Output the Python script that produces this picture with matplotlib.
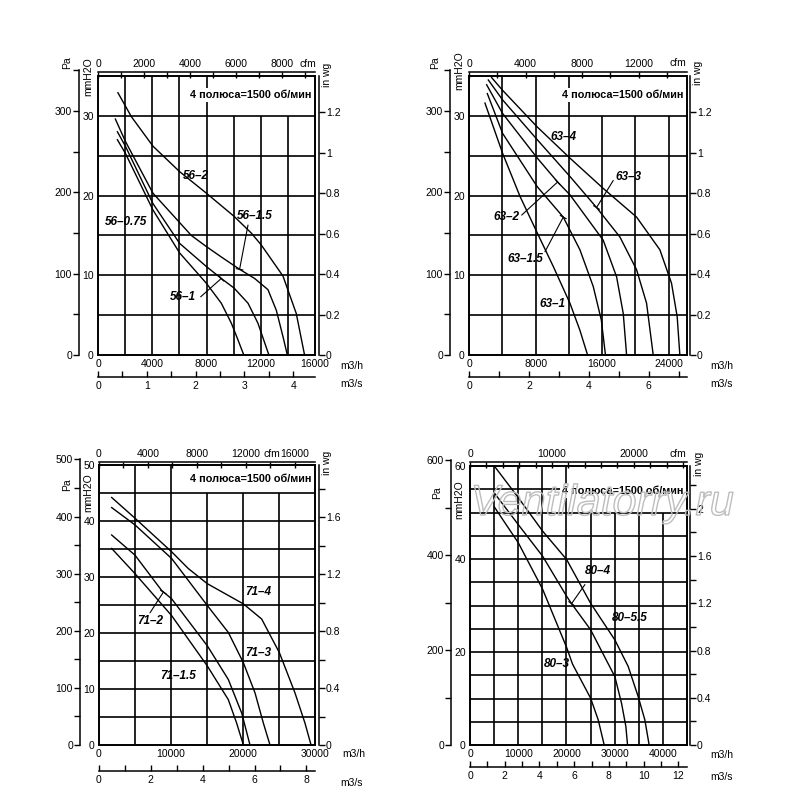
"""
Fan performance curves, 4 panels (series 56 / 63 / 71 / 80, 4 poles, 1500 rpm).
Main scale m3/h vs mmH2O, extra scales Pa, in wg, cfm and m3/s.
"""
import matplotlib
matplotlib.use("Agg")
import numpy as np
import matplotlib.pyplot as plt
from matplotlib import patheffects as pe
from matplotlib import transforms as mtrans
from matplotlib.ticker import MultipleLocator, FuncFormatter

plt.rcParams["font.family"] = ["Liberation Sans", "DejaVu Sans"]

W, H = 800, 811
PA_PER_MM = 9.80665
MM_PER_IN = 25.4
M3H_PER_CFM = 1.699
M3H_PER_M3S = 3600.0

SPEED_TXT = "4 полюса=1500 об/мин"

# ---------- data: flow (m3/h), pressure (mmH2O) ----------
Q_56_2 = [1470, 2460, 4050, 6020, 7990, 10030, 11300, 12040, 13640, 14620, 15230]
H_56_2 = [32.9, 29.9, 26.2, 23.0, 20.3, 17.4, 15.3, 13.8, 9.9, 5.2, 0]
Q_56_15 = [1280, 2020, 4050, 6880, 7990, 9090, 10440, 11550, 12530, 13150, 13640, 13960]
H_56_15 = [29.6, 26.8, 20.3, 15.0, 13.6, 12.3, 10.75, 9.6, 8.2, 5.6, 2.3, 0]
Q_56_1 = [1430, 2020, 4050, 6020, 7990, 9090, 10030, 11060, 11790, 12600]
H_56_1 = [28.0, 26.2, 19.0, 14.0, 11.1, 9.6, 8.4, 6.5, 4.0, 0]
Q_56_075 = [1430, 2020, 4050, 6020, 7990, 9090, 9830, 10320, 10750]
H_56_075 = [27.0, 25.3, 18.2, 12.8, 9.0, 6.5, 4.0, 1.9, 0]

Q_63_1 = [1920, 4040, 6130, 8210, 10130, 12130, 13330, 14250]
H_63_1 = [31.6, 25.3, 19.9, 15.3, 11.1, 6.5, 3.1, 0]
Q_63_15 = [2200, 4040, 8210, 11330, 13330, 14930, 15900, 16400]
H_63_15 = [32.8, 27.8, 21.1, 17.3, 13.2, 8.6, 4.4, 0]
Q_63_2 = [2120, 4040, 8210, 10650, 12130, 16130, 17740, 18540, 18940]
H_63_2 = [33.9, 30.3, 24.7, 21.7, 20.1, 14.4, 9.8, 5.2, 0]
Q_63_3 = [2320, 4040, 8210, 12130, 15330, 18140, 20140, 21340, 22140]
H_63_3 = [34.5, 32.0, 27.0, 22.4, 18.5, 14.8, 10.7, 6.5, 0]
Q_63_4 = [2720, 4040, 8210, 12130, 16130, 20140, 22940, 24340, 25020, 25340]
H_63_4 = [34.8, 33.2, 28.6, 24.7, 20.9, 17.3, 13.2, 9.0, 4.8, 0]

Q_71_4 = [1760, 5000, 10090, 12410, 15050, 20050, 22590, 25050, 27220, 28610, 29450]
H_71_4 = [44.2, 40.5, 34.5, 31.5, 28.8, 25.2, 22.5, 16.5, 9.3, 3.9, 0]
Q_71_3 = [1760, 5000, 10090, 15050, 17960, 20050, 21670, 22830, 23750]
H_71_3 = [42.4, 39.3, 33.3, 24.9, 20.1, 14.7, 9.3, 3.9, 0]
Q_71_2 = [1760, 5000, 8700, 10090, 15050, 17960, 19820, 20970]
H_71_2 = [37.5, 33.9, 27.6, 26.1, 17.7, 11.7, 5.7, 0]
Q_71_15 = [1760, 5000, 10090, 15050, 17960, 19120, 20050]
H_71_15 = [35.1, 30.6, 23.1, 14.1, 8.1, 3.9, 0]

Q_80_55 = [5040, 10010, 15060, 20030, 25000, 30040, 32800, 34880, 36260, 37150]
H_80_55 = [60.0, 53.2, 46.0, 39.9, 30.5, 22.6, 16.9, 10.4, 5.4, 0]
Q_80_4 = [5040, 10010, 15060, 20030, 21060, 25000, 30040, 31420, 32320, 32670]
H_80_4 = [54.2, 47.4, 40.6, 32.0, 30.4, 24.8, 14.7, 9.0, 4.0, 0]
Q_80_3 = [5040, 10010, 15060, 20030, 21260, 25000, 26590, 27830]
H_80_3 = [51.2, 43.5, 33.5, 21.0, 17.4, 10.1, 5.4, 0]

# ---------- curve names, label spots (m3/h, mmH2O) and leader lines ----------
CURVES_56 = [(Q_56_2, H_56_2), (Q_56_15, H_56_15), (Q_56_1, H_56_1), (Q_56_075, H_56_075)]
LABELS_56 = [("56–2", 7250, 22.5), ("56–1.5", 11550, 17.4),
             ("56–0.75", 2090, 16.7), ("56–1", 6270, 7.3)]
LEADERS_56 = [((11060, 16.3), (10440, 10.75)), ((7570, 7.3), (9090, 9.6))]

CURVES_63 = [(Q_63_1, H_63_1), (Q_63_15, H_63_15), (Q_63_2, H_63_2),
             (Q_63_3, H_63_3), (Q_63_4, H_63_4)]
LABELS_63 = [("63–4", 11330, 27.4), ("63–3", 19140, 22.3), ("63–2", 4520, 17.3),
             ("63–1.5", 6730, 12.1), ("63–1", 10050, 6.4)]
LEADERS_63 = [((6330, 17.55), (10650, 21.7)), ((9130, 12.95), (11330, 17.3)),
              ((17340, 21.9), (15330, 18.5))]

CURVES_71 = [(Q_71_4, H_71_4), (Q_71_3, H_71_3), (Q_71_2, H_71_2), (Q_71_15, H_71_15)]
LABELS_71 = [("71–4", 22130, 27.3), ("71–3", 22130, 16.5),
             ("71–2", 7080, 22.2), ("71–1.5", 11020, 12.3)]
LEADERS_71 = [((7080, 23.6), (8940, 27.3))]

CURVES_80 = [(Q_80_55, H_80_55), (Q_80_4, H_80_4), (Q_80_3, H_80_3)]
LABELS_80 = [("80–4", 26590, 37.4), ("80–5.5", 33150, 27.3), ("80–3", 17960, 17.5)]
LEADERS_80 = [((23830, 34.5), (21060, 30.4))]

# ---------- layout per panel (pixels of the 800x811 canvas) ----------
P1 = dict(box=(98, 76, 315, 355), xmax=16000, ymax=35, xgrid=2000, through=8000,
          ycut=30, label_left=0, xticks=[0, 4000, 8000, 12000, 16000],
          yticks=[0, 10, 20, 30], title_y=32.6,
          pa_x=79, pa_max=350, pa_major=100, pa_minor=50,
          in_x=319, in_major=0.2, in_minor=0.2,
          cfm_y=72, cfm_major=2000, cfm_minor=1000, cfm_txt=(300, 64),
          s_y=377, s_major=1, s_minor=0.5,
          pa_lbl=(67, 63), mm_lbl=(88, 77), in_lbl=(327, 75),
          m3h_lbl=(340, 366), m3s_lbl=(340, 384))
P2 = dict(box=(469, 76, 687, 355), xmax=26200, ymax=35, xgrid=4000, through=12000,
          ycut=30, label_left=0, xticks=[0, 8000, 16000, 24000],
          yticks=[0, 10, 20, 30], title_y=32.6,
          pa_x=450, pa_max=350, pa_major=100, pa_minor=50,
          in_x=690, in_major=0.2, in_minor=0.2,
          cfm_y=72, cfm_major=4000, cfm_minor=2000, cfm_txt=(669, 63),
          s_y=377, s_major=2, s_minor=1,
          pa_lbl=(435, 63), mm_lbl=(459, 71), in_lbl=(698, 73),
          m3h_lbl=(710, 366), m3s_lbl=(710, 384))
P3 = dict(box=(99, 465, 315, 745), xmax=30000, ymax=50, xgrid=5000, through=10000,
          ycut=45, label_left=0, xticks=[0, 10000, 20000, 30000],
          yticks=[0, 10, 20, 30, 40, 50], title_y=47.5,
          pa_x=80, pa_max=500, pa_major=100, pa_minor=50,
          in_x=319, in_major=0.4, in_minor=0.2,
          cfm_y=462, cfm_major=4000, cfm_minor=2000, cfm_txt=(263, 454),
          s_y=771, s_major=2, s_minor=1,
          pa_lbl=(67, 485), mm_lbl=(88, 493), in_lbl=(327, 463),
          m3h_lbl=(342, 754), m3s_lbl=(340, 783))
P4 = dict(box=(470, 466, 687, 745), xmax=45000, ymax=60, xgrid=5000, through=20000,
          ycut=50, label_left=18990, xticks=[0, 10000, 20000, 30000, 40000],
          yticks=[0, 20, 40, 60], title_y=54.7,
          pa_x=451, pa_max=600, pa_major=200, pa_minor=100,
          in_x=690, in_major=0.4, in_minor=0.2,
          cfm_y=462, cfm_major=10000, cfm_minor=2000, cfm_txt=(670, 454),
          s_y=767, s_major=2, s_minor=1,
          pa_lbl=(437, 493), mm_lbl=(459, 500), in_lbl=(699, 464),
          m3h_lbl=(710, 755), m3s_lbl=(710, 777))

TICK_FS = 7.5
GRID_LW = 1.2


def fmt(v, pos=None):
    return f"{round(v, 6):g}"


def strip(ax, keep):
    for name, sp in ax.spines.items():
        sp.set_visible(name == keep)
        sp.set_linewidth(1.1)
    ax.patch.set_visible(False)


def ftxt(xy, s, **kw):
    fig.text(xy[0] / W, 1 - xy[1] / H, s, fontsize=TICK_FS, **kw)


def draw_panel(cfg, curves, labels, leaders):
    x0, y0, x1, y1 = cfg["box"]
    ax = fig.add_axes([x0 / W, 1 - y1 / H, (x1 - x0) / W, (y1 - y0) / H])
    ax.set_xlim(0, cfg["xmax"])
    ax.set_ylim(0, cfg["ymax"])
    for sp in ax.spines.values():
        sp.set_linewidth(1.4)
    ax.set_xticks(cfg["xticks"])
    ax.set_yticks(cfg["yticks"])
    ax.xaxis.set_major_formatter(FuncFormatter(fmt))
    ax.yaxis.set_major_formatter(FuncFormatter(fmt))
    ax.tick_params(length=0, labelsize=TICK_FS, pad=3)

    # grid, cut away under the speed label
    for gx in np.arange(cfg["xgrid"], cfg["xmax"] - 1, cfg["xgrid"]):
        top = cfg["ymax"] if gx <= cfg["through"] else cfg["ycut"]
        ax.vlines(gx, 0, top, color="k", lw=GRID_LW, zorder=1)
    for gy in np.arange(5, cfg["ymax"] - 0.1, 5):
        right = cfg["xmax"] if gy <= cfg["ycut"] else cfg["label_left"]
        ax.hlines(gy, 0, right, color="k", lw=GRID_LW, zorder=1)

    for q, h in curves:
        ax.plot(q, h, color="k", lw=1.0, zorder=3, solid_joinstyle="round")
    for s, lx, ly in labels:
        ax.text(lx, ly, s, fontsize=8.5, style="italic", weight="bold",
                ha="center", va="center", zorder=4)
    for start, tip in leaders:
        ax.annotate("", xy=tip, xytext=start, zorder=4,
                    arrowprops=dict(arrowstyle="-[, widthB=0.25, lengthB=0",
                                    lw=0.8, color="k", shrinkA=0, shrinkB=0))

    tr = mtrans.blended_transform_factory(ax.transAxes, ax.transData)
    ax.text(0.985, cfg["title_y"], SPEED_TXT, transform=tr, ha="right",
            va="center", fontsize=7.8, weight="bold", zorder=2,
            bbox=dict(fc="white", ec="none", pad=1.5))

    # Pa scale (left, outside)
    pa_h = (y1 - y0) * cfg["pa_max"] / (cfg["ymax"] * PA_PER_MM)
    ax_pa = fig.add_axes([cfg["pa_x"] / W, 1 - y1 / H, 1e-4, pa_h / H])
    strip(ax_pa, "left")
    ax_pa.set_ylim(0, cfg["pa_max"])
    ax_pa.set_xticks([])
    ax_pa.yaxis.set_major_locator(MultipleLocator(cfg["pa_major"]))
    ax_pa.yaxis.set_minor_locator(MultipleLocator(cfg["pa_minor"]))
    ax_pa.yaxis.set_major_formatter(FuncFormatter(fmt))
    ax_pa.tick_params(axis="y", which="both", direction="out", length=4,
                      width=1, labelsize=TICK_FS, pad=1)

    # in wg scale (right)
    ax_in = fig.add_axes([cfg["in_x"] / W, 1 - y1 / H, 1e-4, (y1 - y0) / H])
    strip(ax_in, "right")
    ax_in.set_ylim(0, cfg["ymax"] / MM_PER_IN)
    ax_in.set_xticks([])
    ax_in.yaxis.tick_right()
    ax_in.yaxis.set_major_locator(MultipleLocator(cfg["in_major"]))
    ax_in.yaxis.set_minor_locator(MultipleLocator(cfg["in_minor"]))
    ax_in.yaxis.set_major_formatter(FuncFormatter(fmt))
    ax_in.tick_params(axis="y", which="both", direction="out", length=4,
                      width=1, labelsize=TICK_FS, pad=1)

    # cfm scale (top)
    ax_c = fig.add_axes([x0 / W, 1 - cfg["cfm_y"] / H, (x1 - x0) / W, 1e-4])
    strip(ax_c, "top")
    ax_c.set_xlim(0, cfg["xmax"] / M3H_PER_CFM)
    ax_c.set_yticks([])
    ax_c.xaxis.tick_top()
    ax_c.xaxis.set_major_locator(MultipleLocator(cfg["cfm_major"]))
    ax_c.xaxis.set_minor_locator(MultipleLocator(cfg["cfm_minor"]))
    ax_c.xaxis.set_major_formatter(FuncFormatter(fmt))
    ax_c.tick_params(axis="x", which="both", direction="in", length=4,
                     width=1, labelsize=TICK_FS, pad=2)

    # m3/s scale (bottom)
    ax_s = fig.add_axes([x0 / W, 1 - cfg["s_y"] / H, (x1 - x0) / W, 1e-4])
    strip(ax_s, "bottom")
    ax_s.set_xlim(0, cfg["xmax"] / M3H_PER_M3S)
    ax_s.set_yticks([])
    ax_s.xaxis.set_major_locator(MultipleLocator(cfg["s_major"]))
    ax_s.xaxis.set_minor_locator(MultipleLocator(cfg["s_minor"]))
    ax_s.xaxis.set_major_formatter(FuncFormatter(fmt))
    ax_s.tick_params(axis="x", which="both", direction="in", length=4,
                     width=1, labelsize=TICK_FS, pad=3)

    ftxt(cfg["pa_lbl"], "Pa", rotation=90, ha="center", va="center")
    ftxt(cfg["mm_lbl"], "mmH2O", rotation=90, ha="center", va="center")
    ftxt(cfg["in_lbl"], "in wg", rotation=90, ha="center", va="center")
    ftxt(cfg["cfm_txt"], "cfm", ha="left", va="center")
    ftxt(cfg["m3h_lbl"], "m3/h", ha="left", va="center")
    ftxt(cfg["m3s_lbl"], "m3/s", ha="left", va="center")
    return ax


fig = plt.figure(figsize=(W / 100, H / 100), dpi=100, facecolor="white")

draw_panel(P1, CURVES_56, LABELS_56, LEADERS_56)
draw_panel(P2, CURVES_63, LABELS_63, LEADERS_63)
draw_panel(P3, CURVES_71, LABELS_71, LEADERS_71)
draw_panel(P4, CURVES_80, LABELS_80, LEADERS_80)

# site watermark over the lower right panel
fig.text(602 / W, 1 - 504 / H, "Ventilatorry.ru", fontsize=31, style="italic",
         ha="center", va="center", color="none", zorder=20,
         path_effects=[pe.Stroke(linewidth=1.0, foreground="#bdbdbd")])

fig.savefig("out.png", dpi=100, facecolor="white")
